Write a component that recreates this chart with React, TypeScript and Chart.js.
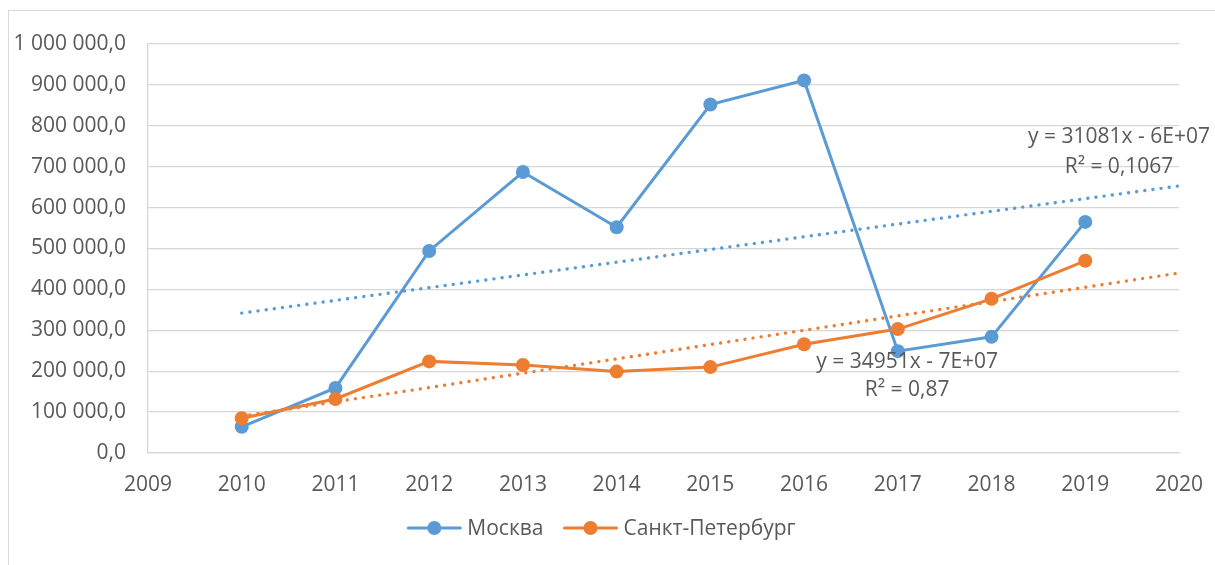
import React, { useEffect, useRef } from "react";
import { Chart, registerables } from "chart.js";

Chart.register(...registerables);

const years = [2010, 2011, 2012, 2013, 2014, 2015, 2016, 2017, 2018, 2019];
const moscow = [64000, 159000, 494000, 687000, 552000, 852000, 911000, 249000, 284000, 565000];
const spb = [85000, 132000, 224000, 215000, 199000, 210000, 266000, 303000, 377000, 470000];
const trendYears = [2010, 2020];
const moscowTrend = [342000, 653000];
const spbTrend = [90000, 440000];
const seriesNames = ["Москва", "Санкт-Петербург"];
const moscowTrendLabel = ["y = 31081x - 6E+07", "R² = 0,1067"];
const spbTrendLabel = ["y = 34951x - 7E+07", "R² = 0,87"];
const xMin = 2009;
const xMax = 2020;
const yMax = 1000000;
const yStep = 100000;

const BLUE = "#5b9bd5";
const ORANGE = "#ed7d31";
const TEXT = "#595959";
const GRID = "#d6d6d6";
const FONT = "'Open Sans', sans-serif";
const FS = 21;

function fmtY(v: number): string {
  const s = Math.round(v).toString();
  const parts: string[] = [];
  for (let i = s.length; i > 0; i -= 3) {
    parts.unshift(s.substring(Math.max(0, i - 3), i));
  }
  return parts.join(" ") + ",0";
}

const trendLabelPlugin = {
  id: "trendLabels",
  afterDatasetsDraw(chart: any) {
    const { ctx, scales } = chart;
    const xs = scales.x;
    const ys = scales.y;
    ctx.save();
    ctx.fillStyle = TEXT;
    ctx.font = `${FS}px ${FONT}`;
    ctx.textAlign = "center";
    ctx.textBaseline = "middle";
    const mx = xs.getPixelForValue(2019.36);
    ctx.fillText(moscowTrendLabel[0], mx, ys.getPixelForValue(773000));
    ctx.fillText(moscowTrendLabel[1], mx, ys.getPixelForValue(700000));
    const sx = xs.getPixelForValue(2017.1);
    ctx.fillText(spbTrendLabel[0], sx, ys.getPixelForValue(223000));
    ctx.fillText(spbTrendLabel[1], sx, ys.getPixelForValue(154000));
    ctx.restore();
  },
};

const legendPlugin = {
  id: "customLegend",
  afterDraw(chart: any) {
    const { ctx } = chart;
    ctx.save();
    ctx.font = `${FS}px ${FONT}`;
    const colors = [BLUE, ORANGE];
    const lineW = 54;
    const gapText = 6;
    const gapItem = 20;
    const widths = seriesNames.map((n) => ctx.measureText(n).width);
    const total = widths.reduce((a, w) => a + lineW + gapText + w, 0) + gapItem * (seriesNames.length - 1);
    let x = chart.width / 2 - 6 - total / 2;
    const y = chart.height - 37;
    seriesNames.forEach((name, i) => {
      ctx.strokeStyle = colors[i];
      ctx.lineWidth = 3;
      ctx.lineCap = "round";
      ctx.beginPath();
      ctx.moveTo(x + 1, y);
      ctx.lineTo(x + lineW - 1, y);
      ctx.stroke();
      ctx.fillStyle = colors[i];
      ctx.beginPath();
      ctx.arc(x + lineW / 2, y, 7, 0, Math.PI * 2);
      ctx.fill();
      ctx.fillStyle = TEXT;
      ctx.textAlign = "left";
      ctx.textBaseline = "middle";
      ctx.fillText(name, x + lineW + gapText, y + 1);
      x += lineW + gapText + widths[i] + gapItem;
    });
    ctx.restore();
  },
};

export default function App() {
  const ref = useRef<HTMLCanvasElement | null>(null);

  useEffect(() => {
    document.documentElement.style.overflow = "hidden";
    document.body.style.overflow = "hidden";
    if (!ref.current) return;
    const toXY = (xsArr: number[], ysArr: number[]) => xsArr.map((x, i) => ({ x, y: ysArr[i] }));
    const chart = new Chart(ref.current, {
      type: "line",
      data: {
        datasets: [
          {
            label: seriesNames[1],
            data: toXY(years, spb),
            borderColor: ORANGE,
            backgroundColor: ORANGE,
            borderWidth: 3,
            pointRadius: 7,
            pointBorderWidth: 0,
            pointBackgroundColor: ORANGE,
            tension: 0,
            order: 0,
          },
          {
            label: seriesNames[0],
            data: toXY(years, moscow),
            borderColor: BLUE,
            backgroundColor: BLUE,
            borderWidth: 3,
            pointRadius: 7,
            pointBorderWidth: 0,
            pointBackgroundColor: BLUE,
            tension: 0,
            order: 1,
          },
          {
            label: "trend Москва",
            data: toXY(trendYears, moscowTrend),
            borderColor: BLUE,
            borderWidth: 3.4,
            borderDash: [0.01, 8.2],
            borderCapStyle: "round",
            pointRadius: 0,
            order: 2,
          },
          {
            label: "trend СПб",
            data: toXY(trendYears, spbTrend),
            borderColor: ORANGE,
            borderWidth: 3.4,
            borderDash: [0.01, 8.2],
            borderCapStyle: "round",
            pointRadius: 0,
            order: 3,
          },
        ],
      },
      options: {
        responsive: false,
        animation: false,
        devicePixelRatio: 1,
        layout: { padding: { left: 0, right: 36, top: 44, bottom: 62 } },
        plugins: {
          legend: { display: false },
          tooltip: { enabled: false },
          title: { display: false },
        },
        scales: {
          x: {
            type: "linear",
            min: xMin,
            max: xMax,
            ticks: {
              stepSize: 1,
              color: TEXT,
              font: { family: FONT, size: FS },
              padding: 19,
              maxRotation: 0,
              callback: (v: any) => String(v),
            },
            grid: { display: false, drawTicks: false },
            border: { display: true, color: GRID, width: 1.3 },
            afterFit: (s: any) => {
              s.height = 50;
              s.paddingLeft = 0;
              s.paddingRight = 0;
            },
          },
          y: {
            type: "linear",
            min: 0,
            max: yMax,
            ticks: {
              stepSize: yStep,
              color: TEXT,
              font: { family: FONT, size: FS },
              padding: 22,
              callback: (v: any) => fmtY(Number(v)),
            },
            grid: { color: GRID, lineWidth: 1.3, drawTicks: false },
            border: { display: true, color: GRID, width: 1.3 },
            afterFit: (s: any) => {
              s.width = 148;
              s.paddingTop = 0;
              s.paddingBottom = 0;
            },
          },
        },
      },
      plugins: [trendLabelPlugin, legendPlugin],
    });
    return () => chart.destroy();
  }, []);

  return (
    <>
      <div
        style={{
          position: "fixed",
          left: 8,
          top: 10,
          width: 1240,
          height: 600,
          border: "1px solid #d9d9d9",
          boxSizing: "border-box",
        }}
      />
      <canvas
        ref={ref}
        width={1215}
        height={565}
        style={{ position: "fixed", left: 0, top: 0, width: 1215, height: 565 }}
      />
    </>
  );
}
